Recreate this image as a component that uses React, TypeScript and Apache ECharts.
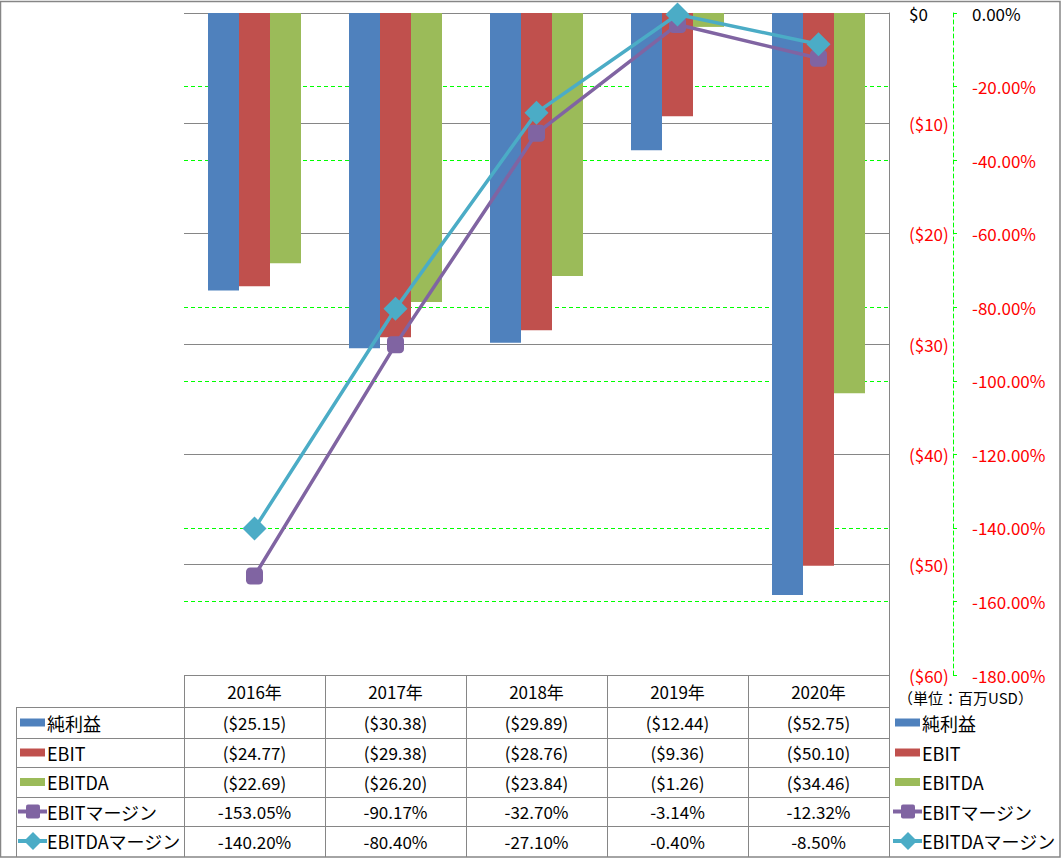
import React, { useEffect, useRef } from "react";
import * as echarts from "echarts";

const years = ["2016年", "2017年", "2018年", "2019年", "2020年"];
const netIncome = [-25.15, -30.38, -29.89, -12.44, -52.75];
const ebit = [-24.77, -29.38, -28.76, -9.36, -50.1];
const ebitda = [-22.69, -26.2, -23.84, -1.26, -34.46];
const ebitMargin = [-153.05, -90.17, -32.7, -3.14, -12.32];
const ebitdaMargin = [-140.2, -80.4, -27.1, -0.4, -8.5];
const seriesNames = ["純利益", "EBIT", "EBITDA", "EBITマージン", "EBITDAマージン"];
const unitLabel = "（単位：百万USD）";

const COLORS = ["#4F81BD", "#C0504D", "#9BBB59", "#8064A2", "#4BACC6"];
const FONT = "'Noto Sans CJK JP', 'Noto Sans', sans-serif";
const GRID_L = 184;
const GRID_R = 889;
const GRID_T = 13;
const GRID_B = 675;
const ROW_Y = [675, 707, 738, 767, 797, 826, 856];
const BORDER = "#868686";

const fmtMoney = (v: number) => (v === 0 ? "$0" : v < 0 ? `($${Math.abs(v).toFixed(2)})` : `$${v.toFixed(2)}`);
const fmtPct = (v: number) => `${v.toFixed(2)}%`;

function legendKey(i: number, x: number, cy: number): any[] {
  const els: any[] = [];
  if (i < 3) {
    els.push({ type: "rect", shape: { x, y: cy - 4, width: 25, height: 8 }, style: { fill: COLORS[i] } });
  } else {
    els.push({
      type: "line",
      shape: { x1: x - 2, y1: cy, x2: x + 27, y2: cy },
      style: { stroke: COLORS[i], lineWidth: 4 },
    });
    if (i === 3) {
      els.push({
        type: "rect",
        shape: { x: x + 6, y: cy - 7, width: 14, height: 14, r: 2 },
        style: { fill: COLORS[i] },
      });
    } else {
      els.push({
        type: "polygon",
        shape: { points: [[x + 13, cy - 9], [x + 22, cy], [x + 13, cy + 9], [x + 4, cy]] },
        style: { fill: COLORS[i] },
      });
    }
  }
  return els;
}

export default function App() {
  const ref = useRef<HTMLDivElement>(null);
  useEffect(() => {
    document.body.style.margin = "0";
    const chart = echarts.init(ref.current!, undefined, { renderer: "svg" });
    const colW = (GRID_R - GRID_L) / years.length;
    const rows = [netIncome, ebit, ebitda, ebitMargin, ebitdaMargin];

    const graphic: any[] = [];
    // outer border
    graphic.push({
      type: "rect",
      shape: { x: 0.5, y: 1.5, width: 1059.5, height: 855.5 },
      style: { fill: "none", stroke: BORDER, lineWidth: 1.5 },
      z: 100,
    });
    // table lines
    graphic.push({
      type: "line",
      shape: { x1: GRID_L, y1: ROW_Y[0] + 0.5, x2: GRID_R, y2: ROW_Y[0] + 0.5 },
      style: { stroke: BORDER, lineWidth: 1 },
    });
    for (let r = 1; r < ROW_Y.length - 1; r++) {
      graphic.push({
        type: "line",
        shape: { x1: 17, y1: ROW_Y[r] + 0.5, x2: GRID_R, y2: ROW_Y[r] + 0.5 },
        style: { stroke: BORDER, lineWidth: 1 },
      });
    }
    for (let c = 0; c <= years.length; c++) {
      const x = Math.round(GRID_L + c * colW) + 0.5;
      graphic.push({
        type: "line",
        shape: { x1: x, y1: ROW_Y[0], x2: x, y2: 857 },
        style: { stroke: BORDER, lineWidth: 1 },
      });
    }
    graphic.push({
      type: "line",
      shape: { x1: 16.5, y1: ROW_Y[1], x2: 16.5, y2: 857 },
      style: { stroke: BORDER, lineWidth: 1 },
    });
    // header
    years.forEach((y, c) => {
      graphic.push({
        type: "text",
        x: GRID_L + colW * (c + 0.5),
        y: (ROW_Y[0] + ROW_Y[1]) / 2,
        style: { text: y, font: `17px ${FONT}`, fill: "#000", align: "center", verticalAlign: "middle" },
      });
    });
    // rows
    rows.forEach((vals, r) => {
      const cy = (ROW_Y[r + 1] + ROW_Y[r + 2]) / 2;
      vals.forEach((v, c) => {
        graphic.push({
          type: "text",
          x: GRID_L + colW * (c + 0.5),
          y: cy,
          style: {
            text: r < 3 ? fmtMoney(v) : fmtPct(v),
            font: `17px ${FONT}`,
            fill: "#000",
            align: "center",
            verticalAlign: "middle",
          },
        });
      });
      legendKey(r, 20, cy).forEach((e) => graphic.push(e));
      graphic.push({
        type: "text",
        x: 47,
        y: cy,
        style: { text: seriesNames[r], font: `18px ${FONT}`, fill: "#000", align: "left", verticalAlign: "middle" },
      });
      legendKey(r, 895, cy).forEach((e) => graphic.push(e));
      graphic.push({
        type: "text",
        x: 922,
        y: cy,
        style: { text: seriesNames[r], font: `18px ${FONT}`, fill: "#000", align: "left", verticalAlign: "middle" },
      });
    });
    graphic.push({
      type: "text",
      x: 898,
      y: 697,
      style: { text: unitLabel, font: `15px ${FONT}`, fill: "#000", align: "left", verticalAlign: "middle" },
    });

    chart.setOption({
      animation: false,
      backgroundColor: "#fff",
      textStyle: { fontFamily: FONT },
      grid: { left: GRID_L, top: GRID_T, width: GRID_R - GRID_L, height: GRID_B - GRID_T, containLabel: false },
      xAxis: {
        type: "category",
        data: years,
        axisLine: { show: false },
        axisTick: { show: false },
        axisLabel: { show: false },
        splitLine: { show: false },
      },
      yAxis: [
        {
          type: "value",
          position: "right",
          min: -60,
          max: 0,
          interval: 10,
          axisLine: { show: true, lineStyle: { color: BORDER, width: 1 } },
          axisTick: { show: false },
          axisLabel: {
            margin: 20,
            fontSize: 17,
            fontFamily: FONT,
            align: "left",
            formatter: (v: number) => (Number(v) === 0 ? "$0" : `($${Math.abs(v)})`),
            color: (v: any) => (Number(v) === 0 ? "#000" : "#FF0000"),
          },
          splitLine: { show: true, lineStyle: { color: BORDER, width: 1, type: "solid" } },
        },
        {
          type: "value",
          position: "right",
          offset: 64,
          min: -180,
          max: 0,
          interval: 20,
          axisLine: { show: true, lineStyle: { color: "#00FF00", width: 1, type: [4, 3] } },
          axisTick: { show: true, length: 4, lineStyle: { color: "#00FF00", width: 1 } },
          axisLabel: {
            margin: 19,
            fontSize: 17,
            fontFamily: FONT,
            align: "left",
            formatter: (v: number) => `${Number(v).toFixed(2)}%`,
            color: (v: any) => (Number(v) === 0 ? "#000" : "#FF0000"),
          },
          splitLine: {
            show: true,
            lineStyle: { color: ["transparent", "#00FF00", "#00FF00"], width: 1, type: [4, 3] },
          },
        },
      ],
      series: [
        { name: seriesNames[0], type: "bar", data: netIncome, barWidth: 31, barGap: "0%", itemStyle: { color: COLORS[0] } },
        { name: seriesNames[1], type: "bar", data: ebit, barWidth: 31, barGap: "0%", itemStyle: { color: COLORS[1] } },
        { name: seriesNames[2], type: "bar", data: ebitda, barWidth: 31, barGap: "0%", itemStyle: { color: COLORS[2] } },
        {
          name: seriesNames[3],
          type: "line",
          yAxisIndex: 1,
          data: ebitMargin,
          clip: false,
          symbol: "roundRect",
          symbolSize: 17,
          lineStyle: { color: COLORS[3], width: 3.5 },
          itemStyle: { color: COLORS[3] },
          z: 5,
        },
        {
          name: seriesNames[4],
          type: "line",
          yAxisIndex: 1,
          data: ebitdaMargin,
          clip: false,
          symbol: "diamond",
          symbolSize: 24,
          lineStyle: { color: COLORS[4], width: 3.5 },
          itemStyle: { color: COLORS[4] },
          z: 6,
        },
      ],
      graphic,
    });
    return () => chart.dispose();
  }, []);
  return <div ref={ref} style={{ width: 1061, height: 858 }} />;
}
